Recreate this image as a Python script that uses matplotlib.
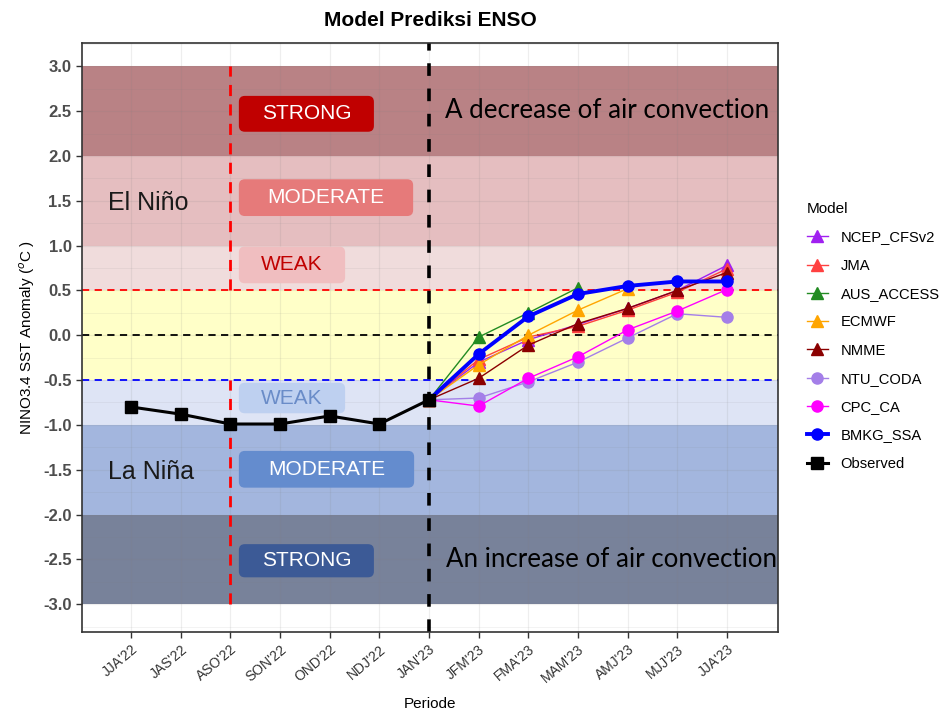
import matplotlib.pyplot as plt
import numpy as np
from matplotlib.patches import FancyBboxPatch
from matplotlib.lines import Line2D

# periods
periods = ["JJA'22", "JAS'22", "ASO'22", "SON'22", "OND'22", "NDJ'22", "JAN'23",
           "JFM'23", "FMA'23", "MAM'23", "AMJ'23", "MJJ'23", "JJA'23"]

observed = [-0.80, -0.88, -0.99, -0.99, -0.90, -0.99, -0.72]

# forecasts from JAN'23 to JJA'23
nan = np.nan
ncep_cfsv2 = [-0.72, -0.30, -0.05, 0.12, 0.30, 0.50, 0.78]
jma = [-0.72, -0.27, -0.02, 0.10, 0.28, 0.48, 0.74]
aus_access = [-0.72, -0.02, 0.25, 0.53, nan, nan, nan]
ecmwf = [-0.72, -0.33, 0.00, 0.28, 0.52, nan, nan]
nmme = [-0.72, -0.48, -0.11, 0.13, 0.30, 0.50, 0.70]
ntu_coda = [-0.72, -0.70, -0.52, -0.30, -0.03, 0.24, 0.20]
cpc_ca = [-0.72, -0.79, -0.48, -0.24, 0.06, 0.27, 0.51]
bmkg_ssa = [-0.72, -0.21, 0.21, 0.46, 0.55, 0.60, 0.60]

# ENSO bands (lower, upper, colour)
band_lo = [2.0, 1.0, 0.5, -0.5, -1.0, -2.0, -3.0]
band_hi = [3.0, 2.0, 1.0, 0.5, -0.5, -1.0, -2.0]
band_col = ['#b98285', '#e5bec0', '#f0dcdc', '#ffffc8', '#dee4f5', '#a3b6de', '#78829a']

plt.rcParams['font.family'] = ['Liberation Sans', 'DejaVu Sans']

fig = plt.figure(figsize=(9.39, 7.13), dpi=100)
ax = fig.add_axes([0.0873, 0.1136, 0.7413, 0.8261])

xi = np.arange(1, len(periods) + 1)
ax.set_xlim(0.01, 14.03)
ax.set_ylim(-3.31, 3.26)

for lo, hi, c in zip(band_lo, band_hi, band_col):
    ax.axhspan(lo, hi, color=c, lw=0, zorder=0)

# grid
for y in np.arange(-3.25, 3.26, 0.25):
    ax.axhline(y, color='#808080', alpha=0.13, lw=0.9 if abs(y * 2 - round(y * 2)) < 1e-6 else 0.5, zorder=1)
for x in xi:
    ax.axvline(x, color='#808080', alpha=0.13, lw=0.9, zorder=1)

# reference lines
ax.axhline(0.5, color='red', ls=(0, (4, 3)), lw=1.3, zorder=2)
ax.axhline(0.0, color='black', ls=(0, (4, 3)), lw=1.3, zorder=2)
ax.axhline(-0.5, color='blue', ls=(0, (4, 3)), lw=1.3, zorder=2)
ax.plot([3, 3], [0.5, 3.0], color='red', ls=(0, (4, 3)), lw=2, zorder=2)
ax.plot([3, 3], [-3.0, -0.5], color='red', ls=(0, (4, 3)), lw=2, zorder=2)
ax.axvline(7, color='black', ls=(0, (3.5, 3.5)), lw=2.6, zorder=2)

# category boxes
box_x0 = [3.17, 3.17, 3.17, 3.17, 3.17, 3.17]
box_x1 = [5.89, 6.68, 5.31, 5.31, 6.70, 5.89]
box_y0 = [2.27, 1.33, 0.58, -0.87, -1.70, -2.70]
box_y1 = [2.67, 1.74, 0.99, -0.53, -1.29, -2.33]
box_txt = ['STRONG', 'MODERATE', 'WEAK', 'WEAK', 'MODERATE', 'STRONG']
box_fc = ['#c00000', '#e67a7a', '#f0bec0', '#bed0f0', '#648cce', '#3c5a96']
box_tc = ['white', 'white', '#c00000', '#6a8cc8', 'white', 'white']

for x0, x1, y0, y1, t, fc, tc in zip(box_x0, box_x1, box_y0, box_y1, box_txt, box_fc, box_tc):
    p = FancyBboxPatch((x0, y0), x1 - x0, y1 - y0,
                       boxstyle='round,pad=0,rounding_size=0.12',
                       mutation_aspect=0.55, fc=fc, ec='none', zorder=3)
    ax.add_patch(p)
    ax.text((x0 + x1) / 2, (y0 + y1) / 2, t, color=tc, fontsize=15,
            ha='center', va='center', zorder=4)

ax.text(0.54, 1.47, 'El Niño', fontsize=18, color='#1a1a1a', va='center', zorder=4)
ax.text(0.54, -1.52, 'La Niña', fontsize=18, color='#1a1a1a', va='center', zorder=4)
ax.text(7.32, 2.51, 'A decrease of air convection', family=['Lato', 'DejaVu Sans'],
        fontsize=18.6, color='black', va='center', zorder=4)
ax.text(7.34, -2.5, 'An increase of air convection', family=['Lato', 'DejaVu Sans'],
        fontsize=18.6, color='black', va='center', zorder=4)

# models
fx = xi[6:]
models = [
    ('NCEP_CFSv2', ncep_cfsv2, '#a020f0', '^', 1.0),
    ('JMA', jma, '#ff4040', '^', 1.0),
    ('AUS_ACCESS', aus_access, '#228b22', '^', 1.0),
    ('ECMWF', ecmwf, '#ffa500', '^', 1.0),
    ('NMME', nmme, '#8b0000', '^', 1.0),
    ('NTU_CODA', ntu_coda, '#a47fe8', 'o', 1.0),
    ('CPC_CA', cpc_ca, '#ff00ff', 'o', 1.0),
    ('BMKG_SSA', bmkg_ssa, '#0000ff', 'o', 2.8),
]
handles = []
for name, vals, c, m, lw in models:
    ax.plot(fx, vals, color=c, lw=lw, marker=m, ms=8, zorder=5)
    handles.append(Line2D([], [], color=c, lw=lw, marker=m, ms=8, label=name))

ax.plot(xi[:7], observed, color='black', lw=2.2, marker='s', ms=8.5, zorder=6)
handles.append(Line2D([], [], color='black', lw=2.2, marker='s', ms=8.5, label='Observed'))

ax.set_xticks(xi)
ax.set_xticklabels(periods, rotation=40, ha='right', rotation_mode='anchor',
                   fontsize=10, color='#333333')
yt = np.arange(-3.0, 3.01, 0.5)
ax.set_yticks(yt)
ax.set_yticklabels(['%.1f' % v for v in yt], fontsize=12, fontweight='bold', color='#4d4d4d')
ax.tick_params(axis='both', length=4, color='#333333', width=1)
for s in ax.spines.values():
    s.set_color('#333333')
    s.set_linewidth(1.2)

ax.set_xlabel('Periode', fontsize=11, labelpad=8)
ax.set_ylabel(r'NINO3.4 SST Anomaly ($^{o}$C )', fontsize=11)
ax.set_title('Model Prediksi ENSO', fontsize=15, fontweight='bold', pad=12)

leg = fig.legend(handles=handles, title='Model', loc='upper left',
                 bbox_to_anchor=(0.845, 0.735), frameon=False, fontsize=10.6,
                 title_fontsize=11, handlelength=1.45, labelspacing=0.97,
                 handletextpad=0.85, alignment='left')

fig.savefig('out.png', dpi=100)
